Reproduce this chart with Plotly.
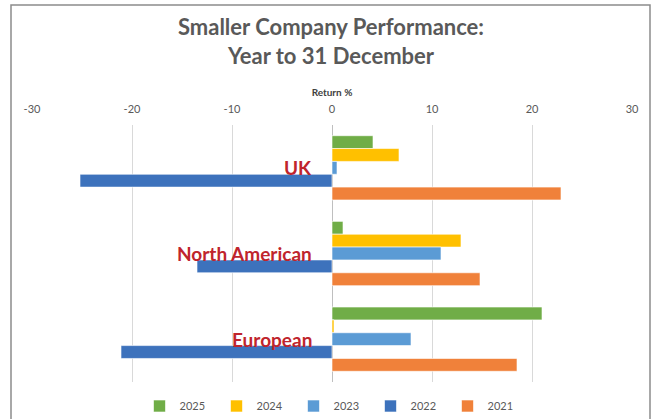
import plotly.graph_objects as go

categories = ["UK", "North American", "European"]
years = ["2025", "2024", "2023", "2022", "2021"]
values_2025 = [4.1, 1.1, 21.0]
values_2024 = [6.7, 12.9, 0.2]
values_2023 = [0.5, 10.9, 7.9]
values_2022 = [-25.2, -13.5, -21.1]
values_2021 = [22.9, 14.8, 18.5]
tick_values = [-30, -20, -10, 0, 10, 20, 30]
tick_labels = ["-30", "-20", "-10", "0", "10", "20", "30"]
series = [values_2025, values_2024, values_2023, values_2022, values_2021]
colors = ["#70AD47", "#FFC000", "#5B9BD5", "#3D72BC", "#F0813A"]

FONT = "Lato"
fig = go.Figure()
for name, vals, col in zip(years, series, colors):
    fig.add_trace(go.Bar(
        y=categories, x=vals, name=name, orientation="h",
        marker=dict(color=col, line=dict(color="rgba(255,255,255,0.6)", width=1)),
    ))

for cat in categories:
    fig.add_annotation(x=0, y=cat, xref="x", yref="y", text=f"<b>{cat}</b>",
                       showarrow=False, xanchor="right", yanchor="middle", xshift=-18, yshift=0,
                       font=dict(family=FONT, size=19, color="#C0242C"))

fig.add_shape(type="rect", xref="paper", yref="paper",
              x0=(11 - 32) / 600, x1=(650 - 32) / 600,
              y0=(382 - 430) / 257, y1=(382 - 5) / 257,
              line=dict(color="#8C8C8C", width=1.5), fillcolor="rgba(0,0,0,0)", layer="below")

fig.update_layout(
    width=656, height=419,
    margin=dict(l=32, r=24, t=125, b=37, autoexpand=False),
    paper_bgcolor="white", plot_bgcolor="white",
    barmode="group", bargap=0.25, bargroupgap=0,
    title=dict(text="<b>Smaller Company Performance:<br>Year to 31 December</b>",
               x=331 / 656, xanchor="center", y=1 - 35 / 419, yanchor="middle",
               font=dict(family=FONT, size=22, color="#595959")),
    xaxis=dict(side="top", range=[-30, 30], tickvals=tick_values, ticktext=tick_labels,
               showgrid=True, gridcolor="#D9D9D9", gridwidth=1,
               zeroline=True, zerolinecolor="#BFBFBF", zerolinewidth=1,
               showline=False, ticks="", automargin=False, ticklabelstandoff=9,
               tickfont=dict(family=FONT, size=11, color="#595959"),
               title=dict(text="<b>Return %</b>", standoff=3,
                          font=dict(family=FONT, size=10, color="#404040"))),
    yaxis=dict(autorange="reversed", showticklabels=False, showgrid=False, zeroline=False,
               automargin=False),
    showlegend=True,
    legend=dict(orientation="h", x=0.5, xanchor="center", xref="paper",
                y=1 - 406 / 419, yanchor="middle", yref="container",
                font=dict(family=FONT, size=11, color="#595959"),
                entrywidth=32, entrywidthmode="pixels", itemwidth=30,
                traceorder="normal", bgcolor="rgba(0,0,0,0)"),
)

fig.write_html("out.html", config={"displayModeBar": False},
               post_script="document.body.style.margin='0';document.body.style.overflow='hidden';")
